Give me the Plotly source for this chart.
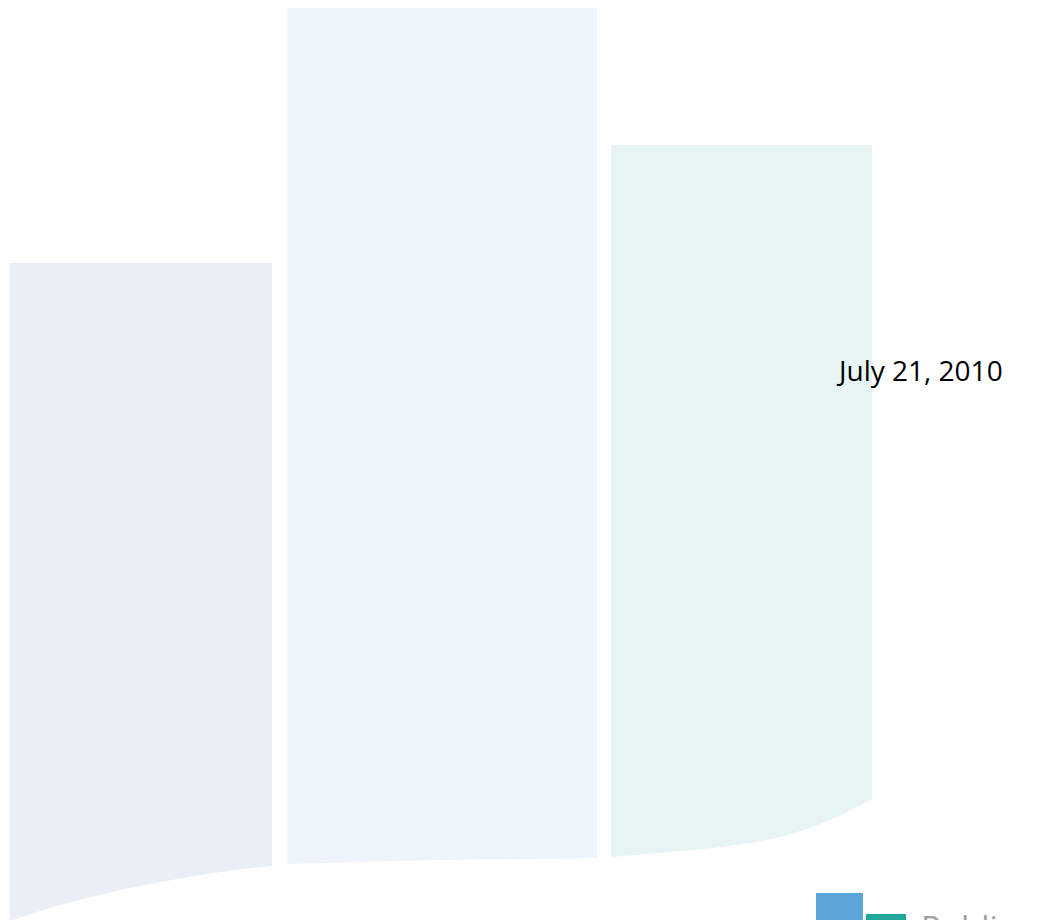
import plotly.graph_objects as go

# Three pale background columns (page coordinates, y grows downward)
bar_left = [10, 287, 611]
bar_right = [272, 597, 872]
bar_top = [263, 8, 145]
bar_colors = ["#EAEFF7", "#EDF4FB", "#E6F5F4"]

# Shared curved lower edge of the columns
curve_x = [10, 40, 67, 100, 133, 165, 200, 235, 272, 287, 360, 440, 520, 597, 611, 660, 713, 750, 780, 810, 840, 872]
curve_y = [921, 911, 903, 895, 887, 881, 875, 870, 866, 864, 862, 860, 859, 858, 857, 853, 848, 843, 837, 828, 816, 799]

# Logo blocks at the bottom right
logo_left = [816, 866]
logo_right = [863, 906]
logo_top = [893, 914]
logo_colors = ["#5BA5DB", "#1FA898"]

date_text = "July 21, 2010"
logo_text = "Public"

# the page body keeps an 8px margin, so the figure starts at (8, 8)
page_offset = 8
page_w, page_h = 1039, 920

fig = go.Figure()

for left, right, top, color in zip(bar_left, bar_right, bar_top, bar_colors):
    edge = [(x, y) for x, y in zip(curve_x, curve_y) if left <= x <= right]
    edge = sorted(edge, reverse=True)
    xs = [left, right] + [p[0] for p in edge] + [left]
    ys = [top, top] + [p[1] for p in edge] + [top]
    fig.add_trace(go.Scatter(
        x=xs, y=ys, mode="lines", fill="toself",
        fillcolor=color, line=dict(width=0), hoverinfo="skip",
        showlegend=False
    ))

for left, right, top, color in zip(logo_left, logo_right, logo_top, logo_colors):
    fig.add_trace(go.Scatter(
        x=[left, right, right, left, left], y=[top, top, 960, 960, top],
        mode="lines", fill="toself", fillcolor=color,
        line=dict(width=0), hoverinfo="skip", showlegend=False
    ))

fig.add_annotation(
    x=834, y=370, text=date_text, showarrow=False,
    xanchor="left", yanchor="middle",
    font=dict(family="Open Sans, sans-serif", size=28, color="#000000")
)
fig.add_annotation(
    x=919, y=903, text=logo_text, showarrow=False,
    xanchor="left", yanchor="top",
    font=dict(family="Open Sans, sans-serif", size=33, color="#A0A0A0")
)

fig.update_layout(
    width=page_w - page_offset, height=page_h - page_offset,
    margin=dict(t=0, b=0, l=0, r=0),
    paper_bgcolor="#FFFFFF", plot_bgcolor="#FFFFFF",
    xaxis=dict(range=[page_offset, page_w], visible=False, fixedrange=True),
    yaxis=dict(range=[page_h, page_offset], visible=False, fixedrange=True),
    showlegend=False
)

fig.write_html("out.html")
